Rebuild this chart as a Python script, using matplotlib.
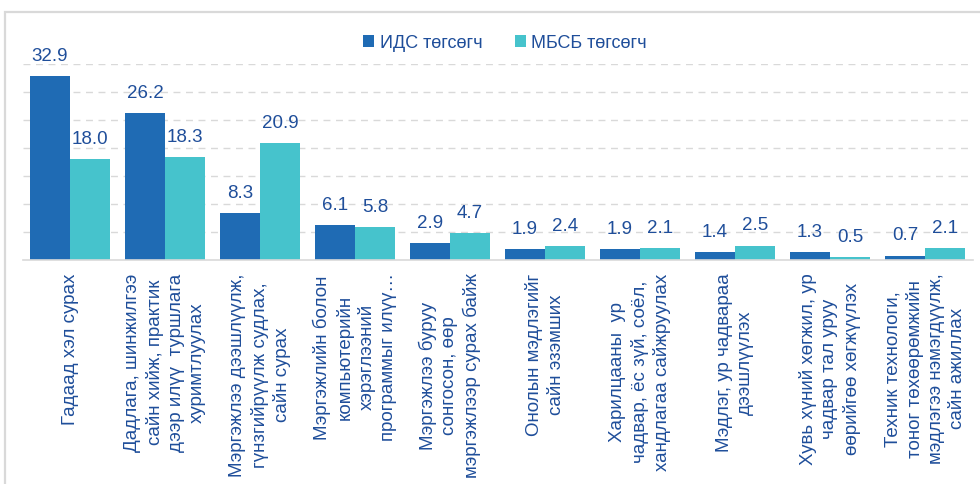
import matplotlib
matplotlib.use("Agg")
import matplotlib.pyplot as plt
import numpy as np
from matplotlib.patches import Rectangle

plt.rcParams['font.family'] = ['Liberation Sans', 'DejaVu Sans']

categories = [
    "Гадаад хэл сурах",
    "Дадлага, шинжилгээ\nсайн хийж, практик\nдээр илүү  туршлага\nхуримтлуулах",
    "Мэргэжлээ дээшлүүлж,\nгүнзгийрүүлж судлах,\nсайн сурах",
    "Мэргэжлийн болон\nкомпьютерийн\nхэрэглээний\nпрограммыг илүү…",
    "Мэргэжлээ буруу\nсонгосон, өөр\nмэргэжлээр сурах байж",
    "Онолын мэдлэгийг\nсайн эзэмших",
    "Харилцааны  ур\nчадвар, ёс зүй, соёл,\nхандлагаа сайжруулах",
    "Мэдлэг, ур чадвараа\nдээшлүүлэх",
    "Хувь хүний хөгжил, ур\nчадвар тал уруу\nөөрийгөө хөгжүүлэх",
    "Техник технологи,\nтоног төхөөрөмжийн\nмэдлэгээ нэмэгдүүлж,\nсайн ажиллах",
]
series_names = ["ИДС төгсөгч", "МБСБ төгсөгч"]
ids_values = [32.9, 26.2, 8.3, 6.1, 2.9, 1.9, 1.9, 1.4, 1.3, 0.7]
mbsb_values = [18.0, 18.3, 20.9, 5.8, 4.7, 2.4, 2.1, 2.5, 0.5, 2.1]

c_ids = "#1F6BB4"
c_mbsb = "#46C3CC"
txt = "#1F4E9A"

W, H = 980, 484
fig = plt.figure(figsize=(W/100, H/100), dpi=100)

# outer frame
fig.patches.append(Rectangle((5/W, -0.02), 1.0, (H-12)/H + 0.02, transform=fig.transFigure,
                             fill=False, edgecolor="#d9d9d9", linewidth=1.6, zorder=0))

base_y = 259.5
top_y = 64
ax = fig.add_axes([22.5/W, (H-base_y)/H, 950/W, (base_y-top_y)/H])

x = np.arange(len(categories))
bw = 0.421
b1 = ax.bar(x - bw/2, ids_values, bw, color=c_ids, label=series_names[0], zorder=3)
b2 = ax.bar(x + bw/2, mbsb_values, bw, color=c_mbsb, label=series_names[1], zorder=3)

for bars, vals in ((b1, ids_values), (b2, mbsb_values)):
    for b, v in zip(bars, vals):
        ax.annotate(f"{v:.1f}", (b.get_x() + b.get_width()/2, v), xytext=(0, 8),
                    textcoords="offset points", ha="center", va="bottom",
                    fontsize=13.5, color=txt)

ax.set_xlim(-0.5, len(categories) - 0.5)
ax.set_ylim(0, 35)
ax.set_yticks(np.arange(5, 36, 5))
ax.yaxis.grid(True, linestyle=(0, (5, 4)), color="#d9d9d9", linewidth=1, zorder=0)
ax.tick_params(axis='y', left=False, labelleft=False)
ax.tick_params(axis='x', length=0, pad=10)
for s in ["top", "right", "left"]:
    ax.spines[s].set_visible(False)
ax.spines["bottom"].set_color("#d9d9d9")
ax.spines["bottom"].set_linewidth(1.2)
ax.spines["bottom"].set_zorder(4)

ax.set_xticks(x)
ax.set_xticklabels(categories, rotation=90, ha="center", va="top",
                   multialignment="center", fontsize=13.5, color=txt,
                   linespacing=1.32)

fig.legend(handles=[b1, b2], labels=series_names, loc="center",
           bbox_to_anchor=(505/W, 1 - 43/H), ncol=2, frameon=False,
           fontsize=13, labelcolor=txt, handlelength=0.6, handleheight=0.6,
           handletextpad=0.3, columnspacing=1.8)

fig.savefig("out.png", dpi=100)
